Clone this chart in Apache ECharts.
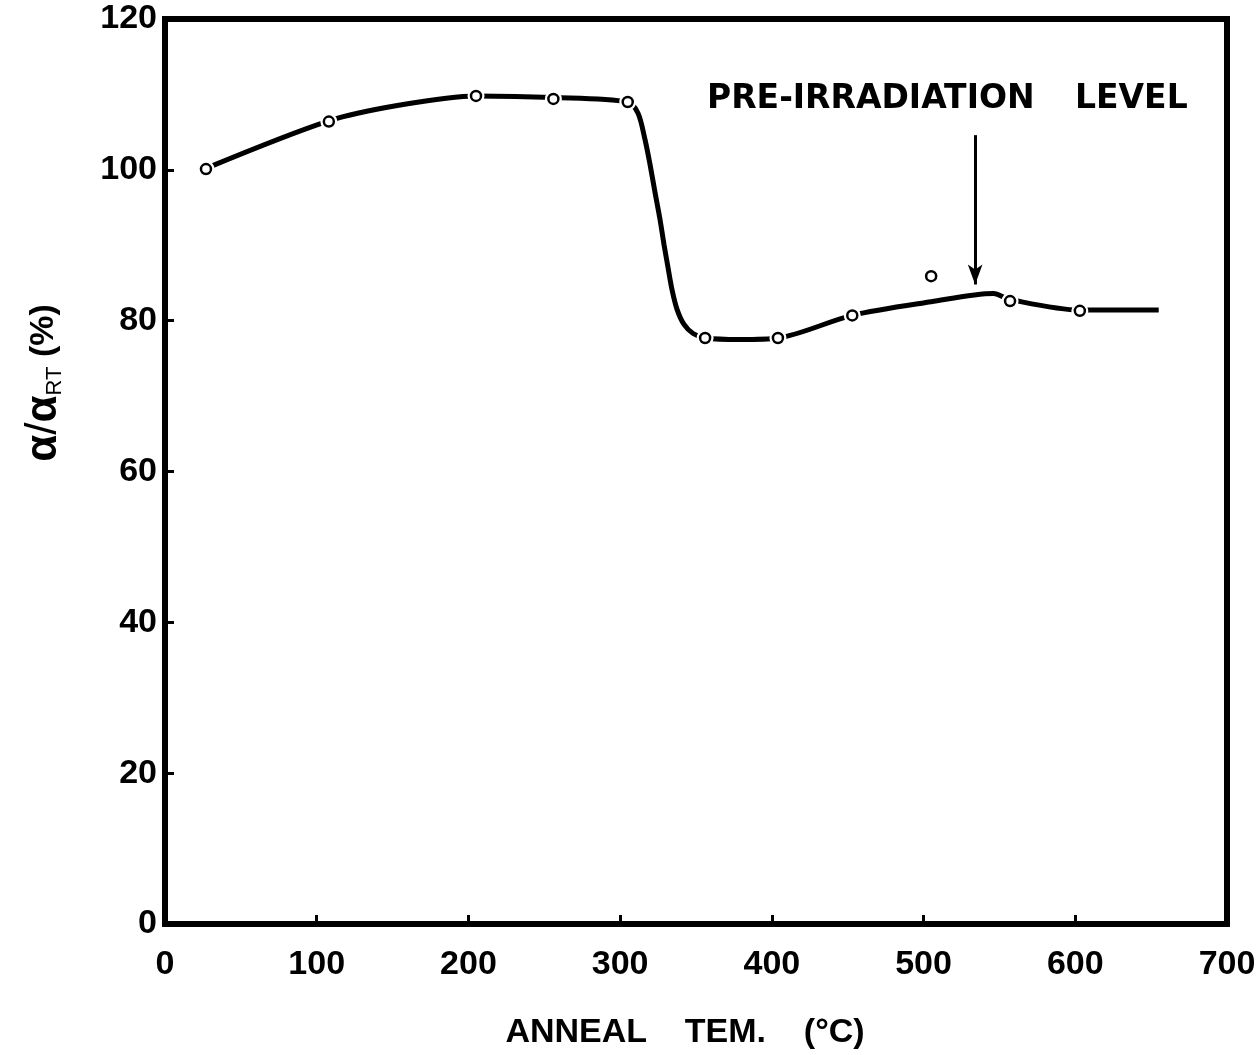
<!DOCTYPE html>
<html>
<head>
<meta charset="utf-8">
<script src="https://cdn.jsdelivr.net/npm/echarts@6/dist/echarts.min.js"></script>
<style>
  html, body { margin: 0; padding: 0; background: #fff; }
  #chart { width: 1259px; height: 1055px; }
</style>
</head>
<body>
<div id="chart"></div>
<script>
// Measured anneal points: temperature (°C) and retained ratio α/α_RT (%)
const annealTemp = [27, 108, 205, 256, 305, 356, 404, 453, 505, 557, 603];
const ratioPct   = [100.1, 106.4, 109.8, 109.4, 109.0, 77.7, 77.7, 80.7, 85.9, 82.6, 81.3];

// Hand-faired trend curve through the measurements
const curveTemp = [27, 108, 155, 205, 256, 305, 311.8, 316.4, 319.7, 323.0, 326.3, 328.9, 331.6, 334.2, 337.5, 342.1, 348.1, 356, 379, 404, 453, 505, 546, 557, 603, 655];
const curvePct  = [100.2, 106.5, 108.6, 109.8, 109.6, 109.0, 107.5, 104.0, 100.7, 97.0, 93.4, 90.1, 87.0, 84.1, 81.5, 79.5, 78.3, 77.7, 77.5, 77.7, 80.7, 82.5, 83.6, 82.8, 81.4, 81.4];

// Pre-irradiation level marker (arrow from label down to curve)
const preIrrTemp = 534;
const preIrrArrow = [104.6, 84.8];

const xTicks = [0, 100, 200, 300, 400, 500, 600, 700];
const yTicks = [0, 20, 40, 60, 80, 100, 120];

const pts = annealTemp.map((t, i) => [t, ratioPct[i]]);
const curve = curveTemp.map((t, i) => [t, curvePct[i]]);

const chart = echarts.init(document.getElementById('chart'));
const labelFont = { color: '#000', fontFamily: 'Liberation Sans, Arial, sans-serif', fontWeight: 'bold', fontSize: 34 };
const noteFont = 'bold 33px "DejaVu Sans", sans-serif';

chart.setOption({
  animation: false,
  backgroundColor: '#fff',
  grid: { left: 165, right: 32, top: 19, bottom: 130, show: true, borderColor: '#000', borderWidth: 6, backgroundColor: 'transparent' },
  xAxis: {
    type: 'value', min: xTicks[0], max: xTicks[xTicks.length - 1], interval: 100,
    axisLine: { show: true, lineStyle: { color: '#000', width: 6 } },
    axisTick: { show: true, inside: true, length: 9, lineStyle: { color: '#000', width: 3 } },
    splitLine: { show: false },
    axisLabel: Object.assign({ margin: 24 }, labelFont),
    name: 'ANNEAL    TEM.    (°C)',
    nameLocation: 'middle',
    nameGap: 92,
    nameTextStyle: { color: '#000', fontFamily: 'Liberation Sans, Arial, sans-serif', fontWeight: 'bold', fontSize: 34, padding: [0, 22, 0, 0] }
  },
  yAxis: {
    type: 'value', min: yTicks[0], max: yTicks[yTicks.length - 1], interval: 20,
    axisLine: { show: true, lineStyle: { color: '#000', width: 6 } },
    axisTick: { show: true, inside: true, length: 9, lineStyle: { color: '#000', width: 3 } },
    splitLine: { show: false },
    axisLabel: Object.assign({ margin: 8 }, labelFont)
  },
  series: [
    {
      name: 'trend',
      type: 'line',
      data: curve,
      smooth: 0.3,
      showSymbol: false,
      lineStyle: { color: '#000', width: 5 },
      z: 2,
      markLine: {
        silent: true,
        symbol: ['none', 'arrow'],
        symbolSize: [11, 20],
        label: { show: false },
        lineStyle: { color: '#000', width: 3, type: 'solid' },
        data: [[{ coord: [preIrrTemp, preIrrArrow[0]] }, { coord: [preIrrTemp, preIrrArrow[1]] }]]
      }
    },
    {
      name: 'halo',
      type: 'scatter',
      data: pts,
      symbol: 'circle',
      symbolSize: 17,
      itemStyle: { color: '#fff', opacity: 1 },
      z: 3,
      silent: true
    },
    {
      name: 'measured',
      type: 'scatter',
      data: pts,
      symbol: 'circle',
      symbolSize: 10,
      itemStyle: { color: '#fff', borderColor: '#000', borderWidth: 2.5, opacity: 1 },
      z: 4
    }
  ],
  graphic: [
    {
      type: 'text', x: 707, y: 99,
      style: { text: 'PRE-IRRADIATION', fill: '#000', font: noteFont, verticalAlign: 'middle' }
    },
    {
      type: 'text', x: 1075, y: 99,
      style: { text: 'LEVEL', fill: '#000', font: noteFont, verticalAlign: 'middle' }
    },
    {
      // y-axis title, rotated to read bottom-to-top
      type: 'text', x: 44, y: 383, rotation: Math.PI / 2,
      style: {
        text: '{a|α}{s|/}{a|α}{sub|RT}{p| (%)}',
        align: 'center', verticalAlign: 'middle', fill: '#000',
        rich: {
          a: { fontFamily: 'Liberation Sans, sans-serif', fontWeight: 'bold', fontSize: 44, fill: '#000' },
          s: { fontFamily: 'Liberation Sans, sans-serif', fontSize: 44, fill: '#000' },
          sub: { fontFamily: 'Liberation Sans, sans-serif', fontSize: 22, fill: '#000', verticalAlign: 'bottom', padding: [18, 0, 0, 0] },
          p: { fontFamily: 'Liberation Sans, sans-serif', fontWeight: 'bold', fontSize: 34, fill: '#000' }
        }
      }
    }
  ]
});
</script>
</body>
</html>
